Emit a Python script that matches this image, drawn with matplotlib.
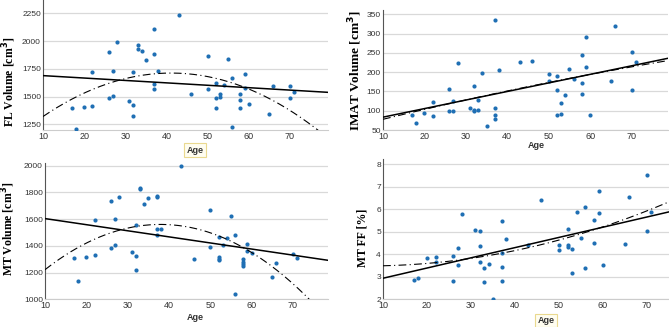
import matplotlib
matplotlib.use('Agg')
import matplotlib.pyplot as plt
import numpy as np

fl_age = [17, 18, 20, 22, 22, 26, 26, 27, 27, 28, 31, 32, 32, 32, 33, 33, 34, 35, 37, 37, 37, 37, 38, 43,
          46, 50, 50, 52, 52, 52, 53, 53, 54, 55, 56, 56, 58, 58, 58, 59, 59, 60, 65, 66, 70, 70, 71]
fl_vol = [1399, 1210, 1411, 1722, 1420, 1898, 1489, 1734, 1507, 1993, 1462, 1725, 1426, 1322, 1966, 1931,
          1913, 1826, 2110, 1880, 1617, 1566, 1734, 2232, 1528, 1868, 1566, 1623, 1486, 1399, 1528, 1498,
          1605, 1838, 1665, 1223, 1522, 1468, 1399, 1707, 1575, 1435, 1340, 1593, 1593, 1492, 1540]

imat_age = [17, 18, 20, 22, 22, 26, 26, 27, 27, 28, 31, 32, 32, 32, 33, 33, 34, 35, 37, 37, 37, 37, 38, 43,
            46, 50, 50, 52, 52, 52, 53, 53, 54, 55, 56, 58, 58, 58, 59, 59, 60, 65, 66, 70, 70, 71]
imat_vol = [89, 69, 94, 123, 86, 155, 100, 100, 124, 224, 108, 165, 101, 98, 128, 102, 198, 60, 335, 108,
            89, 78, 206, 225, 230, 196, 176, 189, 154, 89, 119, 92, 142, 208, 182, 245, 173, 144, 290, 214,
            89, 177, 320, 253, 154, 227]

mt_age = [17, 18, 20, 22, 22, 26, 26, 27, 27, 28, 31, 32, 32, 32, 33, 33, 34, 35, 37, 37, 37, 37, 38, 43,
          46, 50, 50, 52, 52, 52, 52, 53, 54, 55, 56, 56, 58, 58, 58, 58, 59, 59, 60, 65, 66, 70, 71]
mt_vol = [1306, 1139, 1313, 1331, 1592, 1736, 1383, 1604, 1405, 1764, 1351, 1557, 1326, 1216, 1831, 1821,
          1709, 1761, 1766, 1771, 1522, 1483, 1522, 1998, 1298, 1669, 1388, 1468, 1316, 1303, 1293, 1405,
          1458, 1624, 1478, 1040, 1301, 1281, 1266, 1251, 1413, 1361, 1343, 1164, 1269, 1336, 1311]

ff_age = [17, 18, 20, 22, 22, 26, 26, 27, 27, 28, 31, 32, 32, 32, 33, 33, 34, 35, 37, 37, 37, 37, 38, 43,
          46, 50, 50, 52, 52, 52, 53, 53, 54, 55, 56, 56, 58, 58, 59, 59, 60, 65, 66, 70, 70, 71]
ff_val = [2.86, 2.96, 3.85, 3.88, 3.66, 3.94, 2.83, 4.27, 3.51, 5.81, 5.08, 5.05, 4.37, 3.64, 3.38, 2.76,
          3.59, 2.03, 5.48, 4.04, 3.42, 2.83, 4.70, 4.41, 6.40, 4.43, 4.21, 5.14, 4.40, 4.31, 4.25, 3.19,
          5.88, 4.71, 6.09, 3.41, 5.51, 4.52, 6.81, 5.85, 3.51, 4.46, 6.55, 7.53, 5.05, 5.88]

age_ticks = [10, 20, 30, 40, 50, 60, 70]
fl_ticks = [1250, 1500, 1750, 2000, 2250]
imat_ticks = [50, 100, 150, 200, 250, 300, 350]
mt_ticks = [1000, 1200, 1400, 1600, 1800, 2000]
ff_ticks = [2, 3, 4, 5, 6, 7, 8]

DOT = '#1f6fb4'
SERIF = 'Liberation Serif'
SANS = 'Liberation Sans'


def panel(rect, x, y, yticks, xlim, ylim, ylabel, lab_size, ylab_pos, age_pos, age_box):
    ax = fig.add_axes(rect)
    ax.scatter(x, y, s=9, color=DOT, zorder=3, linewidths=0)

    # linear and quadratic fits
    xs = np.linspace(xlim[0], xlim[1], 200)
    lin = np.polyfit(x, y, 1)
    quad = np.polyfit(x, y, 2)
    ax.plot(xs, np.polyval(lin, xs), color='black', lw=1.1, zorder=4)
    ax.plot(xs, np.polyval(quad, xs), color='black', lw=0.8,
            linestyle=(0, (7, 3, 1, 3)), zorder=4)

    ax.set_xlim(*xlim)
    ax.set_ylim(*ylim)
    ax.set_xticks(age_ticks)
    ax.set_yticks(yticks)
    ax.grid(axis='y', color='#d9d9d9', lw=0.9)
    ax.set_axisbelow(True)
    for s in ['top', 'right']:
        ax.spines[s].set_visible(False)
    ax.spines['left'].set_color('#555555')
    ax.spines['left'].set_linewidth(0.8)
    ax.spines['bottom'].set_color('#cccccc')
    ax.spines['bottom'].set_linewidth(0.8)
    ax.tick_params(axis='both', length=0, pad=1.5, labelcolor='#333333')
    ax.tick_params(axis='y', labelsize=6)
    ax.tick_params(axis='x', labelsize=6.5)
    for lab in ax.get_xticklabels() + ax.get_yticklabels():
        lab.set_family(SANS)

    ax.set_ylabel(ylabel, family=SERIF, fontweight='bold', fontsize=lab_size)
    ax.yaxis.set_label_coords(*ylab_pos)

    bbox = None
    if age_box:
        bbox = dict(boxstyle='square,pad=0.25', fc='#fffdf0', ec='#ead98f', lw=0.8)
    ax.text(age_pos[0], age_pos[1], 'Age', transform=ax.transAxes, ha='center', va='center',
            family=SANS, fontweight='bold', fontsize=6.5, color='#333333', bbox=bbox)
    return ax


fig = plt.figure(figsize=(6.69, 3.27), dpi=100)

panel([0.0643, 0.6024, 0.426, 0.3976], fl_age, fl_vol, fl_ticks, (10, 79.3), (1200, 2370),
      'FL Volume [cm$^\\mathbf{3}$]', 8.5, (-0.088, 0.37), (0.533, -0.154), True)
panel([0.5725, 0.6024, 0.426, 0.367], imat_age, imat_vol, imat_ticks, (10, 78.8), (50, 361),
      'IMAT Volume [cm$^\\mathbf{3}$]', 9.5, (-0.068, 0.49), (0.537, -0.133), False)
panel([0.0673, 0.0847, 0.423, 0.4168], mt_age, mt_vol, mt_ticks, (10, 78.5), (1000, 2019),
      'MT Volume [cm$^\\mathbf{3}$]', 8.5, (-0.098, 0.52), (0.53, -0.13), False)
panel([0.5725, 0.0847, 0.4275, 0.428], ff_age, ff_val, ff_ticks, (10, 75), (2, 8.22),
      'MT FF [%]', 8.5, (-0.052, 0.44), (0.57, -0.15), True)

fig.savefig('out.png', dpi=100)
